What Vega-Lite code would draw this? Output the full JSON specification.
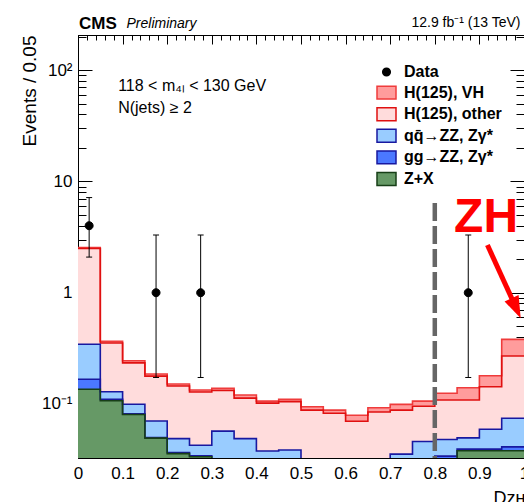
{
  "$schema": "https://vega.github.io/schema/vega-lite/v6.json",
  "width": 446,
  "height": 423,
  "autosize": {"type": "none"},
  "padding": {"left": 78, "top": 35, "right": 0, "bottom": 44},
  "background": "white",
  "title": {"text": "CMS", "anchor": "start", "frame": "group", "fontSize": 17, "fontWeight": "bold", "font": "Liberation Sans", "color": "black", "baseline": "alphabetic", "offset": -30, "dx": 1},
  "config": {
    "view": {"stroke": "black", "strokeWidth": 1},
    "font": "Liberation Sans",
    "axis": {"domainColor": "black", "tickColor": "black", "labelColor": "black", "titleColor": "black", "grid": false, "labelFont": "Liberation Sans", "titleFont": "Liberation Sans", "labelFontSize": 17, "titleFontWeight": "normal", "labelOverlap": false, "labelFlush": false, "labelBound": false, "tickWidth": 1, "zindex": 1},
    "legend": {"orient": "none", "legendX": 298, "legendY": 26.5, "symbolSize": 361, "symbolStrokeWidth": 1.5, "labelFontSize": 16, "labelFontWeight": "bold", "labelFont": "Liberation Sans", "labelColor": "black", "labelOffset": 7, "rowPadding": 1.6, "padding": 0, "labelLimit": 300, "symbolOpacity": 1}
  },
  "datasets": {
    "bins": [
      {"lo": 0, "hi": 0.05, "vh": 2.54, "oth": 2.5, "qq": 0.344, "gg": 0.167, "zx": 0.1355},
      {"lo": 0.05, "hi": 0.1, "vh": 0.366, "oth": 0.353, "qq": 0.129, "gg": 0.11, "zx": 0.107},
      {"lo": 0.1, "hi": 0.15, "vh": 0.245, "oth": 0.234, "qq": 0.0994, "gg": 0.0815, "zx": 0.0805},
      {"lo": 0.15, "hi": 0.2, "vh": 0.186, "oth": 0.178, "qq": 0.0704, "gg": 0.05, "zx": 0.0493},
      {"lo": 0.2, "hi": 0.25, "vh": 0.151, "oth": 0.145, "qq": 0.0488, "gg": 0.0366, "zx": 0.0358},
      {"lo": 0.25, "hi": 0.3, "vh": 0.1336, "oth": 0.128, "qq": 0.0426, "gg": 0.0343, "zx": 0.0336},
      {"lo": 0.3, "hi": 0.35, "vh": 0.138, "oth": 0.132, "qq": 0.057, "gg": 0.02, "zx": 0.02},
      {"lo": 0.35, "hi": 0.4, "vh": 0.1205, "oth": 0.113, "qq": 0.0488, "gg": 0.02, "zx": 0.02},
      {"lo": 0.4, "hi": 0.45, "vh": 0.106, "oth": 0.1018, "qq": 0.0378, "gg": 0.02, "zx": 0.02},
      {"lo": 0.45, "hi": 0.5, "vh": 0.11, "oth": 0.105, "qq": 0.0386, "gg": 0.02, "zx": 0.02},
      {"lo": 0.5, "hi": 0.55, "vh": 0.0944, "oth": 0.0881, "qq": 0.02, "gg": 0.02, "zx": 0.02},
      {"lo": 0.55, "hi": 0.6, "vh": 0.0881, "oth": 0.0825, "qq": 0.02, "gg": 0.02, "zx": 0.02},
      {"lo": 0.6, "hi": 0.65, "vh": 0.0792, "oth": 0.07, "qq": 0.02, "gg": 0.02, "zx": 0.02},
      {"lo": 0.65, "hi": 0.7, "vh": 0.0925, "oth": 0.0848, "qq": 0.02, "gg": 0.02, "zx": 0.02},
      {"lo": 0.7, "hi": 0.75, "vh": 0.0992, "oth": 0.0881, "qq": 0.0354, "gg": 0.02, "zx": 0.02},
      {"lo": 0.75, "hi": 0.8, "vh": 0.106, "oth": 0.0955, "qq": 0.046, "gg": 0.02, "zx": 0.02},
      {"lo": 0.8, "hi": 0.85, "vh": 0.125, "oth": 0.1086, "qq": 0.048, "gg": 0.034, "zx": 0.02},
      {"lo": 0.85, "hi": 0.9, "vh": 0.14, "oth": 0.1086, "qq": 0.0496, "gg": 0.0393, "zx": 0.038},
      {"lo": 0.9, "hi": 0.95, "vh": 0.1796, "oth": 0.143, "qq": 0.0593, "gg": 0.0393, "zx": 0.038},
      {"lo": 0.95, "hi": 1.0, "vh": 0.381, "oth": 0.27, "qq": 0.0744, "gg": 0.0412, "zx": 0.038}
    ],
    "obs": [
      {"x": 0.025, "n": 4, "elo": 2.09, "ehi": 7.16, "series": "Data"},
      {"x": 0.175, "n": 1, "elo": 0.173, "ehi": 3.3, "series": "Data"},
      {"x": 0.275, "n": 1, "elo": 0.173, "ehi": 3.3, "series": "Data"},
      {"x": 0.875, "n": 1, "elo": 0.173, "ehi": 3.3, "series": "Data"}
    ]
  },
  "layer": [
    {
      "data": {"name": "bins"},
      "transform": [
        {"fold": ["vh", "oth", "qq", "gg", "zx"], "as": ["series", "val"]},
        {"fold": ["lo", "hi"], "as": ["ek", "edge"]}
      ],
      "mark": {"type": "area", "clip": true, "opacity": 1, "interpolate": "linear"},
      "encoding": {
        "x": {"field": "edge", "type": "quantitative", "scale": {"domain": [0, 1], "nice": false, "zero": false},
          "axis": {"orient": "bottom",
            "values": [0,0.1,0.2,0.3,0.4,0.5,0.6,0.7,0.8,0.9,1],
            "labelExpr": "format(datum.value, '~g')",
            "tickSize": -9,
            "labelPadding": 16,
            "title": "Dᴢʜ", "titleX": 415, "titleY": 45, "titleAlign": "left", "titleBaseline": "alphabetic", "titleFontSize": 18, "titleAngle": 0}},
        "y": {"field": "val", "type": "quantitative", "stack": null, "scale": {"type": "log", "domain": [0.0327, 207], "nice": false},
          "axis": {"orient": "left",
            "values": [0.1, 1, 10, 100],
            "labelExpr": "datum.value == 100 ? '10²' : datum.value == 10 ? '10' : datum.value == 1 ? '1' : '10⁻¹'",
            "tickSize": -14,
            "labelPadding": 20,
            "title": "Events / 0.05", "titleFontSize": 19, "titleX": -43, "titleY": 0, "titleAlign": "right", "titleAngle": -90, "titleBaseline": "alphabetic"}},
        "y2": {"datum": 0.0327},
        "fill": {"field": "series", "type": "nominal",
          "scale": {"domain": ["Data", "vh", "oth", "qq", "gg", "zx"], "range": ["black", "#ff9c9c", "#ffdcdc", "#99ccff", "#4b78ff", "#669966"]},
          "legend": {"title": null, "labelExpr": "datum.label == 'Data' ? 'Data' : datum.label == 'vh' ? 'H(125), VH' : datum.label == 'oth' ? 'H(125), other' : datum.label == 'qq' ? 'qq̄→ZZ, Zγ*' : datum.label == 'gg' ? 'gg→ZZ, Zγ*' : 'Z+X'"}},
        "order": [{"field": "lo", "type": "quantitative", "sort": "ascending"}, {"field": "ek", "type": "nominal", "sort": "descending"}]
      }
    },
    {
      "data": {"name": "bins"},
      "transform": [
        {"fold": ["vh", "oth", "qq", "gg", "zx"], "as": ["series", "val"]},
        {"fold": ["lo", "hi"], "as": ["ek", "edge"]}
      ],
      "mark": {"type": "line", "clip": true, "strokeWidth": 1.6, "interpolate": "linear"},
      "encoding": {
        "x": {"field": "edge", "type": "quantitative",
          "axis": {"orient": "top",
            "values": [0,0.1,0.2,0.3,0.4,0.5,0.6,0.7,0.8,0.9,1],
            "labels": false,
            "tickSize": -9,
            "title": "12.9 fb⁻¹ (13 TeV)", "titleX": 442, "titleY": -8.5, "titleAlign": "right", "titleBaseline": "alphabetic", "titleFontSize": 14, "titleAngle": 0}},
        "y": {"field": "val", "type": "quantitative",
          "axis": {"orient": "right",
            "values": [0.1, 1, 10, 100],
            "labels": false,
            "tickSize": -14,
            "title": "Preliminary", "titleAngle": 0, "titleX": -398, "titleY": -8, "titleAlign": "left", "titleBaseline": "alphabetic", "titleFontStyle": "italic", "titleFontSize": 14}},
        "stroke": {"field": "series", "type": "nominal",
          "scale": {"domain": ["Data", "vh", "oth", "qq", "gg", "zx"], "range": ["black", "#ef3b3b", "#e01010", "#1818a0", "#1818a0", "#173f17"]},
          "legend": {"title": null, "labelExpr": "datum.label == 'Data' ? 'Data' : datum.label == 'vh' ? 'H(125), VH' : datum.label == 'oth' ? 'H(125), other' : datum.label == 'qq' ? 'qq̄→ZZ, Zγ*' : datum.label == 'gg' ? 'gg→ZZ, Zγ*' : 'Z+X'"}},
        "order": [{"field": "lo", "type": "quantitative", "sort": "ascending"}, {"field": "ek", "type": "nominal", "sort": "descending"}]
      }
    },
    {
      "data": {"values": [{}]},
      "mark": {"type": "rule", "color": "#666666", "strokeWidth": 4.5, "strokeDash": [18, 5]},
      "encoding": {
        "x": {"datum": 0.8, "type": "quantitative",
          "axis": {"orient": "bottom", "values": [0.02,0.04,0.06,0.08,0.12,0.14,0.16,0.18,0.22,0.24,0.26,0.28,0.32,0.34,0.36,0.38,0.42,0.44,0.46,0.48,0.52,0.54,0.56,0.58,0.62,0.64,0.66,0.68,0.72,0.74,0.76,0.78,0.82,0.84,0.86,0.88,0.92,0.94,0.96,0.98], "labels": false, "tickSize": -5, "title": null, "domain": false}},
        "y": {"datum": 6.4, "type": "quantitative",
          "axis": {"orient": "left", "values": [0.04,0.05,0.06,0.07,0.08,0.09,0.2,0.3,0.4,0.5,0.6,0.7,0.8,0.9,2,3,4,5,6,7,8,9,20,30,40,50,60,70,80,90,200], "labels": false, "tickSize": -8, "title": null, "domain": false}},
        "y2": {"datum": 0.0327}
      }
    },
    {
      "data": {"name": "obs"},
      "mark": {"type": "rule", "color": "black", "strokeWidth": 1},
      "encoding": {
        "x": {"field": "x", "type": "quantitative",
          "axis": {"orient": "top", "values": [0.02,0.04,0.06,0.08,0.12,0.14,0.16,0.18,0.22,0.24,0.26,0.28,0.32,0.34,0.36,0.38,0.42,0.44,0.46,0.48,0.52,0.54,0.56,0.58,0.62,0.64,0.66,0.68,0.72,0.74,0.76,0.78,0.82,0.84,0.86,0.88,0.92,0.94,0.96,0.98], "labels": false, "tickSize": -5, "title": null, "domain": false}},
        "y": {"field": "elo", "type": "quantitative",
          "axis": {"orient": "right", "values": [0.04,0.05,0.06,0.07,0.08,0.09,0.2,0.3,0.4,0.5,0.6,0.7,0.8,0.9,2,3,4,5,6,7,8,9,20,30,40,50,60,70,80,90,200], "labels": false, "tickSize": -8, "title": null, "domain": false}},
        "y2": {"field": "ehi"}
      }
    },
    {
      "data": {"name": "obs"},
      "transform": [{"fold": ["elo", "ehi"], "as": ["end", "ev"]}],
      "mark": {"type": "point", "shape": "stroke", "size": 36, "stroke": "black", "strokeWidth": 1, "filled": false, "opacity": 1},
      "encoding": {
        "x": {"field": "x", "type": "quantitative", "axis": null},
        "y": {"field": "ev", "type": "quantitative", "axis": null}
      }
    },
    {
      "data": {"name": "obs"},
      "mark": {"type": "point", "filled": true, "size": 400, "opacity": 1, "strokeWidth": 1},
      "encoding": {
        "x": {"field": "x", "type": "quantitative", "axis": null},
        "y": {"field": "n", "type": "quantitative", "axis": null},
        "fill": {"field": "series", "type": "nominal"},
        "stroke": {"field": "series", "type": "nominal"},
        "shape": {"field": "series", "type": "nominal",
          "scale": {"domain": ["Data", "vh", "oth", "qq", "gg", "zx"], "range": ["M0.4,0A0.4,0.4,0,1,1,-0.4,0A0.4,0.4,0,1,1,0.4,0Z", "M-1,-0.68L1,-0.68L1,0.68L-1,0.68Z", "M-1,-0.68L1,-0.68L1,0.68L-1,0.68Z", "M-1,-0.68L1,-0.68L1,0.68L-1,0.68Z", "M-1,-0.68L1,-0.68L1,0.68L-1,0.68Z", "M-1,-0.68L1,-0.68L1,0.68L-1,0.68Z"]},
          "legend": {"title": null, "labelExpr": "datum.label == 'Data' ? 'Data' : datum.label == 'vh' ? 'H(125), VH' : datum.label == 'oth' ? 'H(125), other' : datum.label == 'qq' ? 'qq̄→ZZ, Zγ*' : datum.label == 'gg' ? 'gg→ZZ, Zγ*' : 'Z+X'"}}
      }
    },
    {
      "data": {"values": [{}]},
      "mark": {"type": "text", "text": ["118 < m₄ₗ < 130 GeV", "N(jets) ≥ 2"], "lineHeight": 22.3, "align": "left", "baseline": "alphabetic", "fontSize": 16, "font": "Liberation Sans", "color": "black"},
      "encoding": {
        "x": {"datum": 0.09, "type": "quantitative", "axis": null},
        "y": {"datum": 64.9, "type": "quantitative", "axis": null}
      }
    },
    {
      "data": {"values": [{}]},
      "mark": {"type": "text", "text": "ZH", "align": "center", "baseline": "alphabetic", "fontSize": 48, "font": "Liberation Sans", "fontWeight": "bold", "color": "#ff0000"},
      "encoding": {
        "x": {"datum": 0.915, "type": "quantitative", "axis": null},
        "y": {"datum": 3.5, "type": "quantitative", "axis": null}
      }
    },
    {
      "data": {"values": [{}]},
      "mark": {"type": "rule", "color": "#ff0000", "strokeWidth": 5},
      "encoding": {
        "x": {"datum": 0.918, "type": "quantitative", "axis": null},
        "y": {"datum": 2.68, "type": "quantitative", "axis": null},
        "x2": {"datum": 0.976},
        "y2": {"datum": 0.83}
      }
    },
    {
      "data": {"values": [{}]},
      "mark": {"type": "point", "shape": "M0,0L-0.35,-1L0.35,-1Z", "size": 1936, "angle": 335.5, "filled": true, "color": "#ff0000", "opacity": 1, "strokeWidth": 0},
      "encoding": {
        "x": {"datum": 0.9926, "type": "quantitative", "axis": null},
        "y": {"datum": 0.589, "type": "quantitative", "axis": null}
      }
    }
  ],
  "resolve": {"axis": {"x": "independent", "y": "independent"}}
}
